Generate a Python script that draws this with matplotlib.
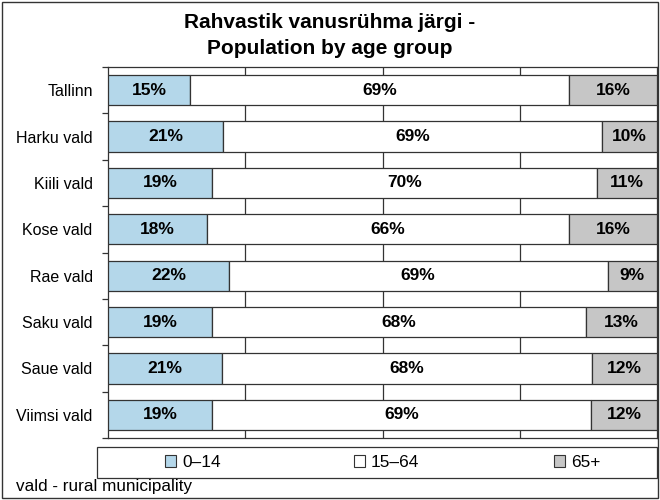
import matplotlib.pyplot as plt
import matplotlib
import numpy as np
from matplotlib.patches import Rectangle, Patch

matplotlib.rcParams['font.family'] = ['Liberation Sans', 'DejaVu Sans']

regions = ['Tallinn', 'Harku vald', 'Kiili vald', 'Kose vald', 'Rae vald',
           'Saku vald', 'Saue vald', 'Viimsi vald']
age_0_14 = [15, 21, 19, 18, 22, 19, 21, 19]
age_15_64 = [69, 69, 70, 66, 69, 68, 68, 69]
age_65 = [16, 10, 11, 16, 9, 13, 12, 12]
series_names = ['0\u201314', '15\u201364', '65+']
colors = ['#b4d7ea', '#ffffff', '#c6c6c6']

vals = np.array([age_0_14, age_15_64, age_65], dtype=float)
shares = vals / vals.sum(axis=0) * 100

fig = plt.figure(figsize=(6.6, 5), dpi=100)
ax = fig.add_axes([108 / 660, 1 - 438 / 500, 549 / 660, 371 / 500])

y = np.arange(len(regions))
left = np.zeros(len(regions))
for i in range(3):
    bars = ax.barh(y, shares[i], left=left, height=0.65, color=colors[i],
                   edgecolor='#333333', linewidth=0.9, zorder=3)
    for j, b in enumerate(bars):
        ax.text(left[j] + shares[i][j] / 2, y[j], '%d%%' % vals[i][j],
                ha='center', va='center', fontsize=12.5, fontweight='bold',
                zorder=4)
    left += shares[i]

ax.set_xlim(0, 100)
ax.set_ylim(len(regions) - 0.5, -0.5)
ax.set_xticks([25, 50, 75])
ax.set_xticklabels([])
ax.tick_params(axis='x', length=0)
ax.grid(axis='x', color='#333333', linewidth=0.9, zorder=0)
ax.set_yticks(y)
ax.set_yticklabels(regions, fontsize=11.5)
ax.set_yticks(np.arange(len(regions) + 1) - 0.5, minor=True)
ax.tick_params(axis='y', which='major', length=0, pad=11)
ax.tick_params(axis='y', which='minor', length=4.5, width=0.9, color='#333333')
for s in ax.spines.values():
    s.set_color('#333333')
    s.set_linewidth(0.9)

fig.text(0.5, 1 - 23 / 500, 'Rahvastik vanusrühma järgi -', ha='center',
         va='center', fontsize=15, fontweight='bold')
fig.text(0.5, 1 - 48 / 500, 'Population by age group', ha='center',
         va='center', fontsize=15, fontweight='bold')

# legend box
fig.patches.append(Rectangle((97 / 660, 1 - 478 / 500), 560 / 660, 31 / 500,
                             transform=fig.transFigure, fill=False,
                             edgecolor='#333333', linewidth=0.9))
leg_x = [193 / 660, 386.5 / 660, 577.5 / 660]
for i in range(3):
    h = Patch(facecolor=colors[i], edgecolor='#333333', linewidth=0.8)
    fig.legend([h], [series_names[i]], loc='center', frameon=False,
               bbox_to_anchor=(leg_x[i], 1 - 462.5 / 500), fontsize=12.4,
               handlelength=0.64, handleheight=0.64, handletextpad=0.35,
               borderpad=0, borderaxespad=0)

fig.text(16 / 660, 1 - 487 / 500, 'vald - rural municipality', ha='left',
         va='center', fontsize=12.3)

fig.patches.append(Rectangle((2 / 660, 2 / 500), 656 / 660, 496 / 500,
                             transform=fig.transFigure, fill=False,
                             edgecolor='#333333', linewidth=1))

fig.savefig('out.png', dpi=100)
